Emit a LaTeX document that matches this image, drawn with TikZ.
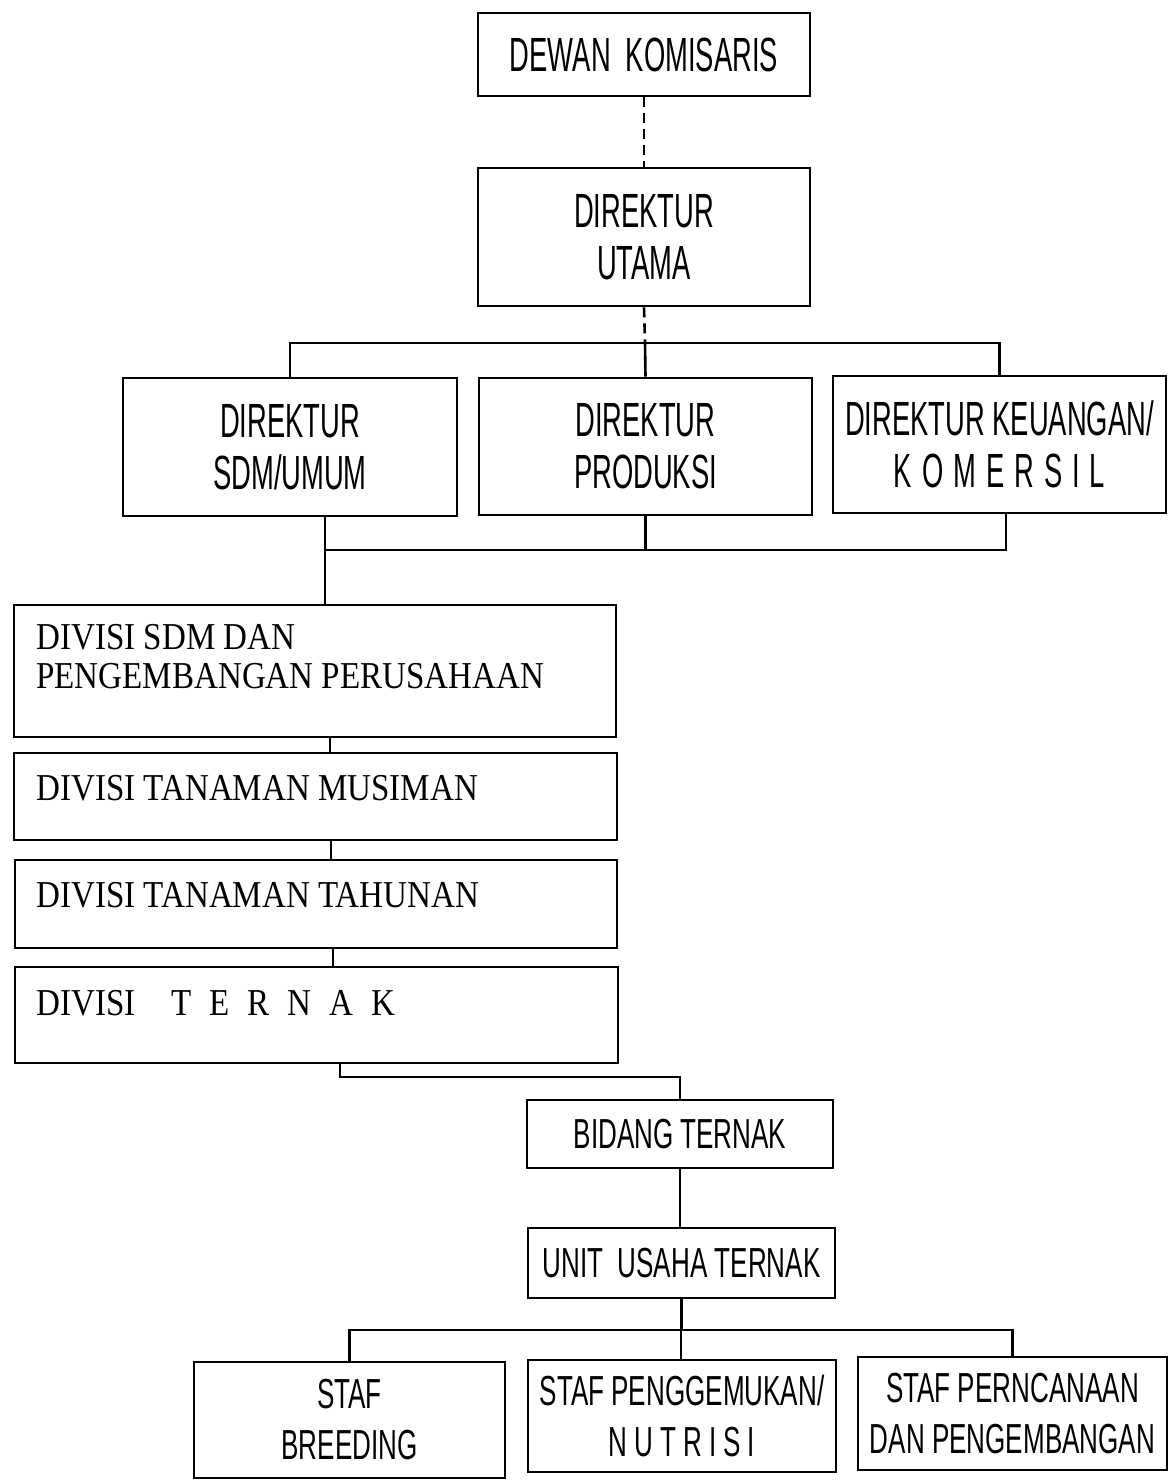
\documentclass[tikz,border=0pt]{standalone}
\usepackage{fontspec}
\newfontfamily\nsans[FakeStretch=0.62]{Liberation Sans}
\newfontfamily\nsansd[FakeStretch=0.57]{Liberation Sans}
\newfontfamily\nserif[FakeStretch=0.87]{Liberation Serif}
\newcommand{\dirfont}{\nsansd\fontsize{24}{26}\selectfont}
\newcommand{\staffont}{\nsans\fontsize{21}{23.5}\selectfont}
\newcommand{\divfont}{\nserif\fontsize{19}{19}\selectfont}
\begin{document}
\begin{tikzpicture}[x=0.5pt,y=-0.5pt,
  box/.style={draw=black,line width=1.3pt,inner sep=0pt,align=center},
  divtext/.style={anchor=base west,inner sep=0pt,align=left,font=\divfont},
  conn/.style={draw=black,line width=1.3pt},
  dconn/.style={conn,dash pattern=on 5pt off 3pt}]
\useasboundingbox (0,0) rectangle (1170,1482);
\fill[white] (0,0) rectangle (1170,1482);
% top
\node[box,minimum width=166pt,minimum height=41.5pt,font=\dirfont] (dk) at (644,54.5) {DEWAN\ \ KOMISARIS};
\node[box,minimum width=166pt,minimum height=69pt,font=\dirfont] (du) at (644,237) {DIREKTUR\\UTAMA};
% directors
\node[box,minimum width=167pt,minimum height=69pt,font=\dirfont] (dsdm) at (290,447) {DIREKTUR\\SDM/UMUM};
\node[box,minimum width=166.5pt,minimum height=68.5pt,font=\dirfont] (dprod) at (645.5,446.5) {DIREKTUR\\PRODUKSI};
\node[box,minimum width=166.5pt,minimum height=68.5pt,font=\dirfont] (dkeu) at (999.5,444.5) {DIREKTUR KEUANGAN/\\K\hspace{5pt}O\hspace{5pt}M\hspace{5pt}E\hspace{5pt}R\hspace{5pt}S\hspace{5pt}I\hspace{5pt}L};
% divisions
\node[box,minimum width=301pt,minimum height=66pt] (div1) at (315,671) {};
\node[box,minimum width=301.5pt,minimum height=43.5pt] (div2) at (315.5,796.5) {};
\node[box,minimum width=301pt,minimum height=44pt] (div3) at (316,904) {};
\node[box,minimum width=301.5pt,minimum height=48pt] (div4) at (316.5,1015) {};
\node[divtext] (t1) at (36,688) {DIVISI SDM DAN\\[0.5pt]PENGEMBANGAN PERUSAHAAN};
\node[divtext] (t2) at (36,800) {DIVISI TANAMAN MUSIMAN};
\node[divtext] (t3) at (36,907) {DIVISI TANAMAN TAHUNAN};
\node[divtext] (t4) at (36,1015) {DIVISI\hspace{18pt}T\hspace{9pt}E\hspace{9pt}R\hspace{9pt}N\hspace{9pt}A\hspace{9pt}K};
% ternak
\node[box,minimum width=153pt,minimum height=34pt,font=\staffont] (bid) at (680,1134) {BIDANG TERNAK};
\node[box,minimum width=153.5pt,minimum height=35pt,font=\staffont] (unit) at (681.5,1263) {UNIT\ \ USAHA TERNAK};
% staff
\node[box,minimum width=155.5pt,minimum height=58pt,font=\staffont] (sf1) at (349.5,1420) {STAF\\[2pt]BREEDING};
\node[box,minimum width=154pt,minimum height=56pt,font=\staffont] (sf2) at (682,1416) {STAF PENGGEMUKAN/\\[2pt]N\hspace{3.5pt}U\hspace{3.5pt}T\hspace{3.5pt}R\hspace{3.5pt}I\hspace{3.5pt}S\hspace{3.5pt}I};
\node[box,minimum width=154.5pt,minimum height=56.5pt,font=\staffont] (sf3) at (1012.5,1413.5) {STAF PERNCANAAN\\[2pt]DAN PENGEMBANGAN};
% connectors
\coordinate (b1) at (645,343);
\coordinate (b2) at (325,550);
\coordinate (tb) at (680,1077);
\coordinate (sb) at (681,1330);
\draw[dconn] (dk.south) -- (du.north);
\draw[dconn] (du.south) -- (b1);
\draw[conn] (dsdm.north) |- (b1) -| (dkeu.north);
\draw[conn] (b1) -- (dprod.north);
\draw[conn] (dsdm.south -| b2) -- (b2) -- (div1.north -| b2);
\draw[conn] (b2) -- (b2 -| 1006,0) -- (dkeu.south -| 1006,0);
\draw[conn] (dprod.south) -- (dprod.south |- b2);
\draw[conn] (div1.south -| 330,0) -- (div2.north -| 330,0);
\draw[conn] (div2.south -| 331,0) -- (div3.north -| 331,0);
\draw[conn] (div3.south -| 333,0) -- (div4.north -| 333,0);
\draw[conn] (div4.south -| 340,0) |- (tb) -- (bid.north);
\draw[conn] (bid.south) -- (bid.south |- unit.north);
\draw[conn] (unit.south) -- (unit.south |- sb);
\draw[conn] (sf1.north) |- (sb) -| (sf3.north);
\draw[conn] (sb) -- (sb |- sf2.north);
\end{tikzpicture}
\end{document}
